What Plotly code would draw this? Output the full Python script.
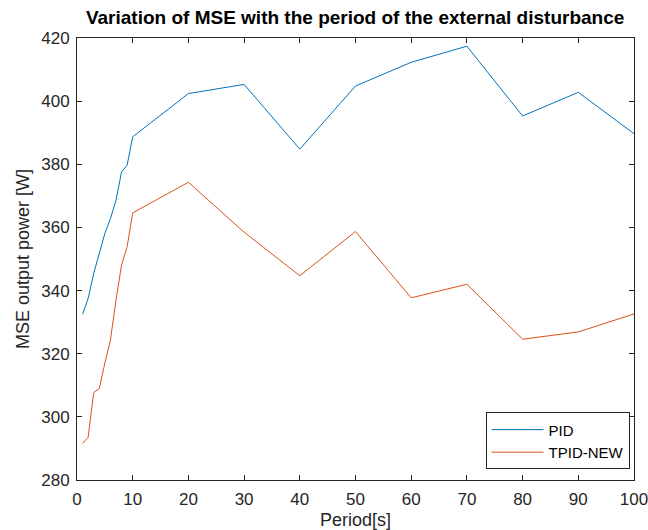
import plotly.graph_objects as go

period = [1, 2, 3, 4, 5, 6, 7, 8, 9, 10, 20, 30, 40, 50, 60, 70, 80, 90, 100]
pid = [332.5, 337.5, 345.4, 351.8, 358.1, 362.8, 368.6, 377.6, 379.7, 388.7,
       402.4, 405.3, 384.8, 404.8, 412.3, 417.4, 395.3, 402.8, 389.7]
tpid_new = [291.6, 293.5, 307.7, 309.0, 317.0, 324.3, 337.0, 348.1, 353.9, 364.6,
            374.3, 358.5, 344.7, 358.7, 337.7, 342.0, 324.6, 326.9, 332.6]

x_ticks = [0, 10, 20, 30, 40, 50, 60, 70, 80, 90, 100]
y_ticks = [280, 300, 320, 340, 360, 380, 400, 420]

FONT = "Liberation Sans, Arial, Helvetica, sans-serif"
AXC = "#262626"

fig = go.Figure()
fig.add_trace(go.Scatter(x=period, y=pid, mode="lines", name="PID",
                         line=dict(color="#0072BD", width=1)))
fig.add_trace(go.Scatter(x=period, y=tpid_new, mode="lines", name="TPID-NEW",
                         line=dict(color="#D95319", width=1)))

axis_common = dict(showline=True, linecolor=AXC, linewidth=1, mirror="ticks",
                   ticks="inside", ticklen=5, tickcolor=AXC, tickwidth=1,
                   showgrid=False, zeroline=False, automargin=False,
                   ticklabeloverflow="allow",
                   tickfont=dict(family=FONT, size=17, color=AXC))

fig.update_layout(
    width=648, height=530,
    margin=dict(l=77, r=14, t=38, b=50),
    paper_bgcolor="white", plot_bgcolor="white",
    title=dict(text="<b>Variation of MSE with the period of the external disturbance</b>",
               x=0.548, xanchor="center", y=0.968, yanchor="middle",
               font=dict(family=FONT, size=19, color="black")),
    xaxis=dict(range=[0, 100], tickvals=x_ticks, ticklabelstandoff=4, **axis_common,
               title=dict(text="Period[s]", standoff=10,
                          font=dict(family=FONT, size=18, color=AXC))),
    yaxis=dict(range=[280, 420], tickvals=y_ticks, ticklabelstandoff=3, **axis_common,
               title=dict(text="MSE output power [W]", standoff=6,
                          font=dict(family=FONT, size=18, color=AXC))),
    legend=dict(x=0.992, y=0.024, xanchor="right", yanchor="bottom",
                bordercolor=AXC, borderwidth=1, bgcolor="white",
                font=dict(family=FONT, size=15, color="black"),
                itemwidth=52, tracegroupgap=0),
    showlegend=True,
)

fig.write_html("out.html")
